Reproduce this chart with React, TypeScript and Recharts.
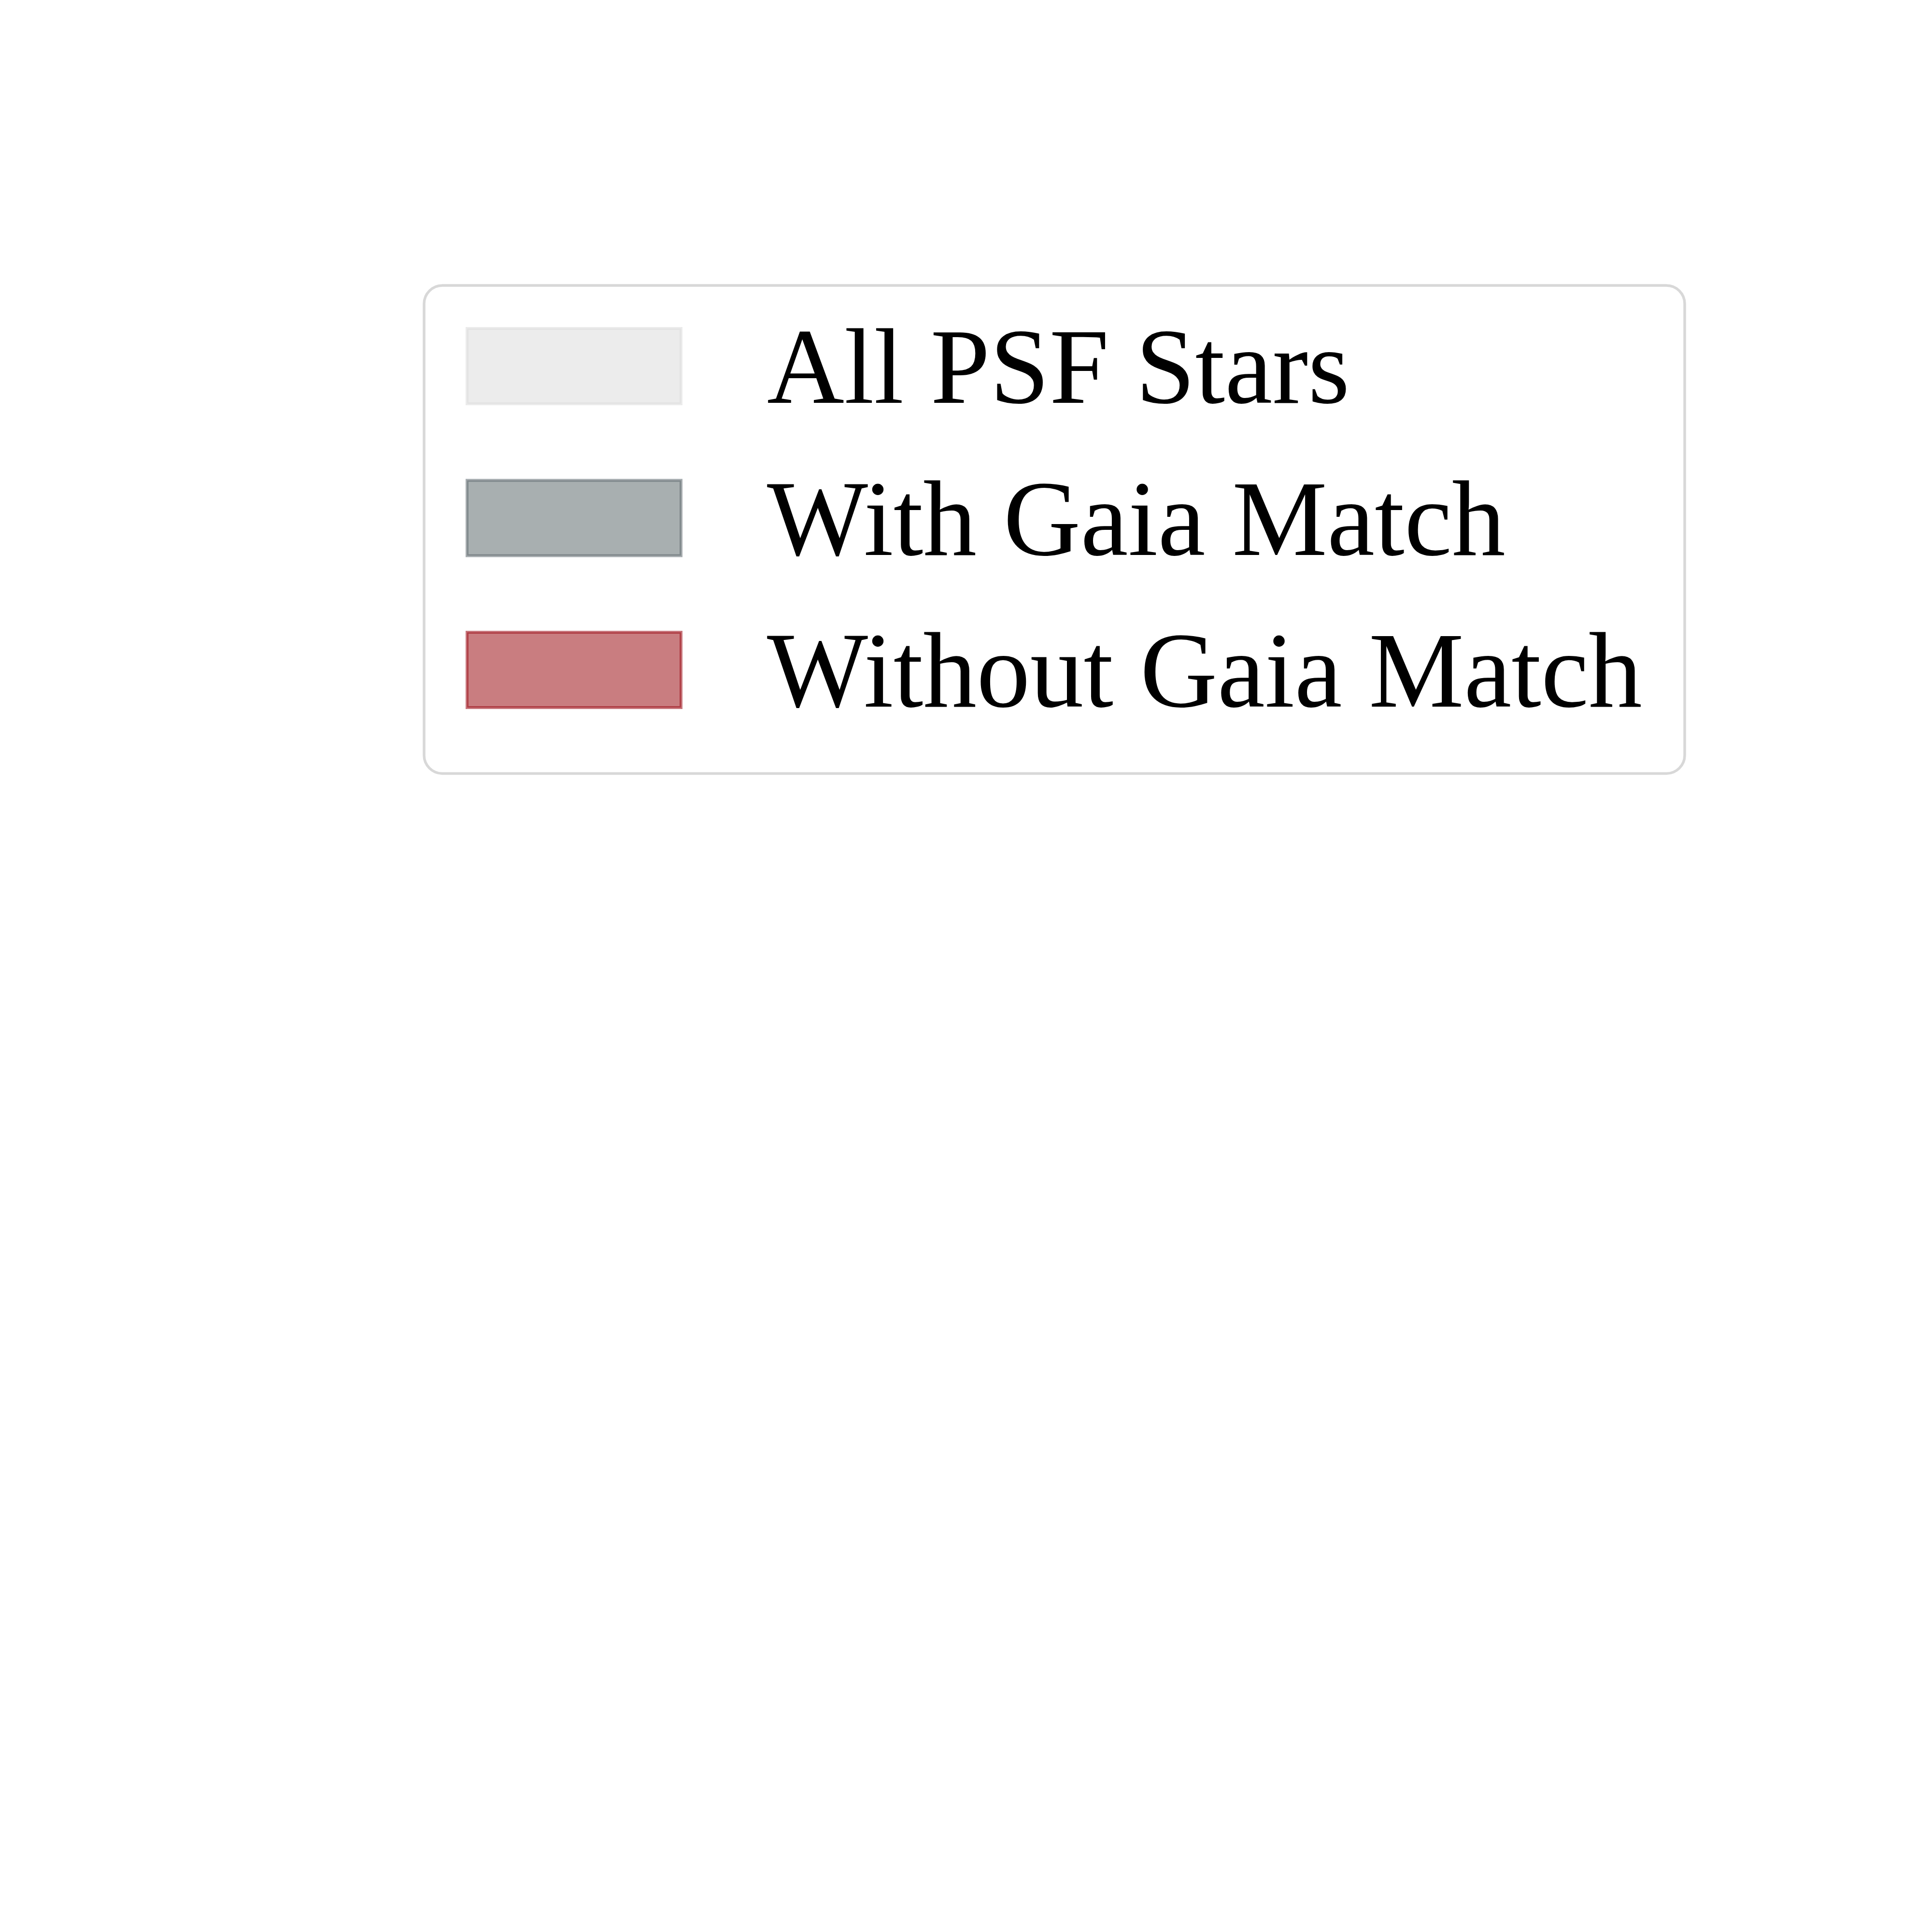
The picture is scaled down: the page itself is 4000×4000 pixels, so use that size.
import React from "react";
import { BarChart, Bar, XAxis, YAxis, Legend } from "recharts";

// The reference shows only the legend of a histogram figure; no bins are visible.
const binLabels: string[] = [];
const allPsfCounts: number[] = [];
const withGaiaCounts: number[] = [];
const withoutGaiaCounts: number[] = [];

const seriesKeys = ["all", "withGaia", "withoutGaia"];
const seriesNames = ["All PSF Stars", "With Gaia Match", "Without Gaia Match"];
const seriesFills = ["#dddddd", "#647072", "#9f171d"];
const seriesStrokes = ["#dcdcdc", "#5f696e", "#9c0b15"];
const seriesAlpha = 0.56;

const data = binLabels.map((b, i) => ({
  bin: b,
  all: allPsfCounts[i],
  withGaia: withGaiaCounts[i],
  withoutGaia: withoutGaiaCounts[i],
}));

const LEG_LEFT = 870;
const LEG_TOP = 580;
const LEG_W = 2630;
const LEG_H = 1035;

function LegendBox() {
  const ox = LEG_LEFT;
  const oy = LEG_TOP;
  return (
    <svg width={LEG_W} height={LEG_H} style={{ display: "block" }}>
      <rect
        x={878 - ox}
        y={591 - oy}
        width={3488 - 878}
        height={1601.5 - 591}
        rx={38}
        ry={38}
        fill="#ffffff"
        stroke="#d8d8d8"
        strokeWidth={5.5}
      />
      {seriesNames.map((name, i) => {
        const top = 680 + i * 314.5;
        const baseline = 834 + i * 314.5;
        return (
          <g key={name}>
            <rect
              x={967 - ox}
              y={top - oy}
              width={1410 - 967}
              height={156}
              fill={seriesFills[i]}
              fillOpacity={seriesAlpha}
              stroke={seriesStrokes[i]}
              strokeOpacity={seriesAlpha}
              strokeWidth={6}
            />
            <text
              x={1588 - ox}
              y={baseline - oy}
              fontFamily="'Liberation Serif', 'Times New Roman', serif"
              fontSize={221.5}
              fill="#000000"
            >
              {name}
            </text>
          </g>
        );
      })}
    </svg>
  );
}

export default function App() {
  return (
    <div style={{ position: "absolute", left: 0, top: 0, width: 4000, height: 4000, background: "#ffffff" }}>
      <BarChart width={4000} height={4000} data={data} margin={{ top: 0, right: 0, bottom: 0, left: 0 }}>
        <XAxis dataKey="bin" hide />
        <YAxis hide />
        {seriesKeys.map((k, i) => (
          <Bar
            key={k}
            dataKey={k}
            name={seriesNames[i]}
            fill={seriesFills[i]}
            fillOpacity={seriesAlpha}
            stroke={seriesStrokes[i]}
            isAnimationActive={false}
          />
        ))}
        <Legend
          content={<LegendBox />}
          wrapperStyle={{ position: "absolute", left: LEG_LEFT, top: LEG_TOP, width: LEG_W, height: LEG_H, margin: 0, padding: 0 }}
        />
      </BarChart>
    </div>
  );
}
